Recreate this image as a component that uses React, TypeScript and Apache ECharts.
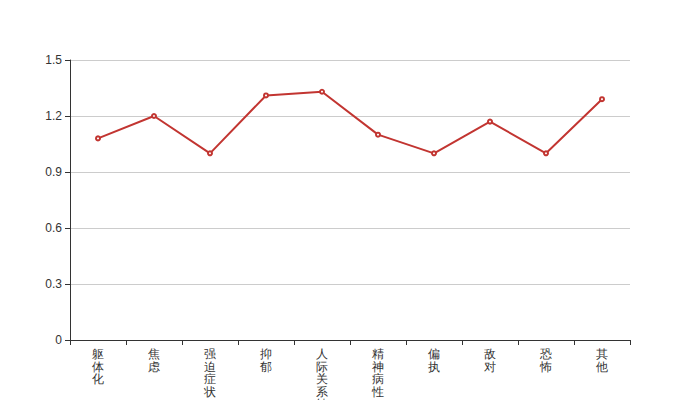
import React, { useEffect, useRef } from "react";
import * as echarts from "echarts";

const categories = ["躯体化", "焦虑", "强迫症状", "抑郁", "人际关系敏感", "精神病性", "偏执", "敌对", "恐怖", "其他"];
const values = [1.08, 1.2, 1.0, 1.31, 1.33, 1.1, 1.0, 1.17, 1.0, 1.29];

export default function App() {
  const ref = useRef<HTMLDivElement>(null);
  useEffect(() => {
    document.body.style.margin = "0";
    const chart = echarts.init(ref.current!, null, { renderer: "svg" });
    chart.setOption({
      animation: false,
      grid: { left: 70, right: 70, top: 60, bottom: 60, outerBoundsMode: "none", containLabel: false },
      xAxis: {
        type: "category",
        data: categories,
        axisLine: { lineStyle: { color: "#333" } },
        axisTick: { show: true, alignWithLabel: false, length: 5, lineStyle: { color: "#333" } },
        axisLabel: {
          interval: 0,
          color: "#333",
          fontSize: 12,
          lineHeight: 12.5,
          formatter: (v: string) => v.split("").join("\n"),
        },
      },
      yAxis: {
        type: "value",
        min: 0,
        max: 1.5,
        interval: 0.3,
        axisLine: { show: true, lineStyle: { color: "#333" } },
        axisTick: { show: true, length: 5, lineStyle: { color: "#333" } },
        axisLabel: { color: "#333", fontSize: 12 },
        splitLine: { lineStyle: { color: "#ccc" } },
      },
      series: [
        {
          type: "line",
          data: values,
          symbol: "emptyCircle",
          symbolSize: 4,
          itemStyle: { color: "#c23531" },
          lineStyle: { color: "#c23531", width: 2 },
        },
      ],
    });
    return () => chart.dispose();
  }, []);
  return <div ref={ref} style={{ width: 700, height: 400 }} />;
}
